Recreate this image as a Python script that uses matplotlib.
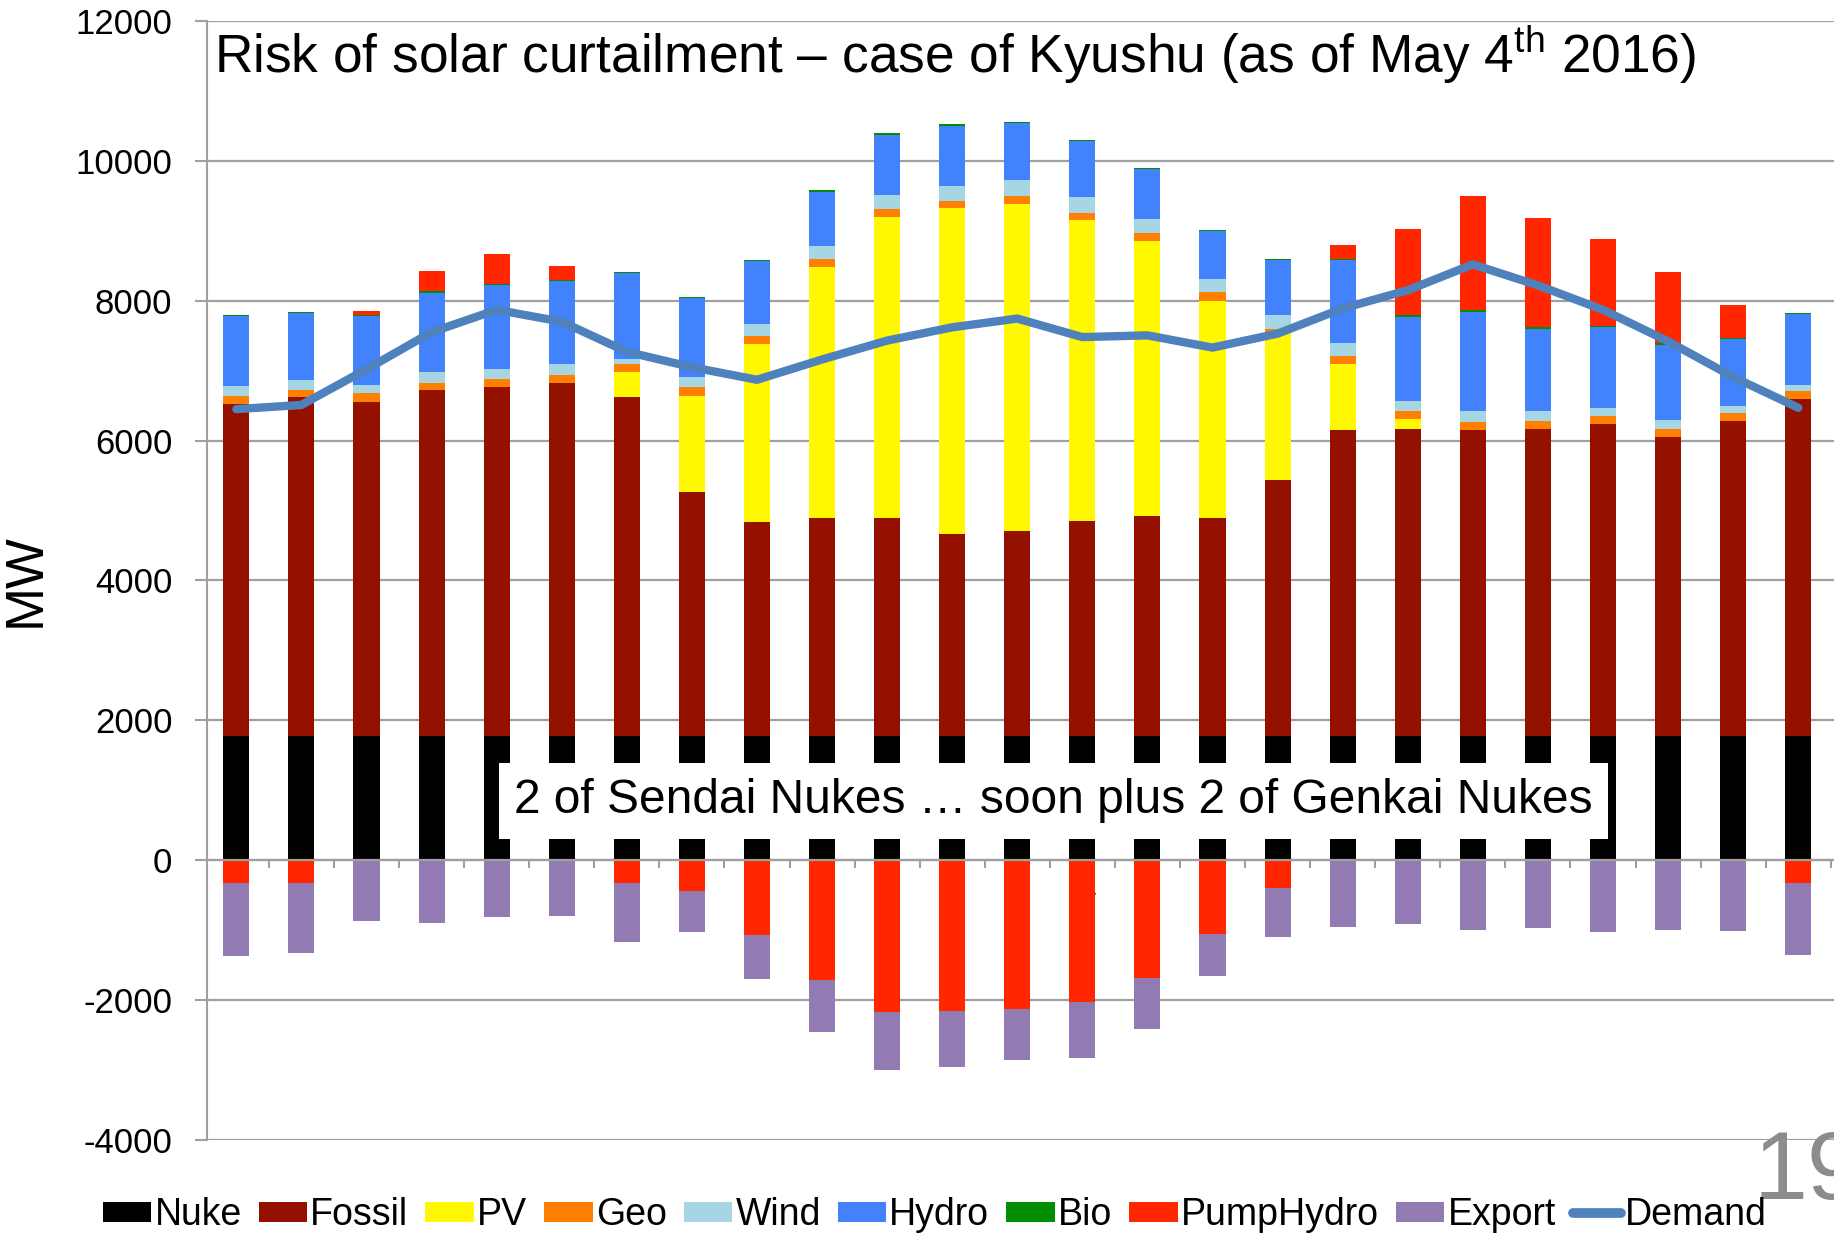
import numpy as np
import matplotlib
matplotlib.use('Agg')
import matplotlib.pyplot as plt
from matplotlib.patches import Patch
from matplotlib.lines import Line2D

# hours of the day (category axis)
hours = list(range(1, 26))
hour_labels = [str(h) for h in hours]

# supply side, MW (stacked upwards)
nuke = [1770, 1770, 1770, 1770, 1780, 1780, 1770, 1780, 1770, 1770, 1770, 1770, 1770,
        1770, 1770, 1770, 1770, 1770, 1770, 1770, 1770, 1770, 1770, 1770, 1770]
fossil = [4750, 4850, 4780, 4950, 4980, 5040, 4850, 3480, 3070, 3120, 3120, 2890, 2940,
          3080, 3150, 3120, 3660, 4380, 4390, 4380, 4390, 4470, 4280, 4510, 4830]
pv = [0, 0, 0, 0, 0, 0, 360, 1380, 2540, 3590, 4300, 4660, 4670,
      4300, 3940, 3110, 2130, 950, 150, 0, 0, 0, 0, 0, 0]
geo = [120, 110, 130, 110, 120, 120, 120, 120, 120, 110, 120, 110, 120,
       110, 110, 120, 30, 110, 110, 120, 120, 110, 120, 110, 110]
wind = [140, 130, 120, 150, 150, 150, 70, 150, 170, 190, 200, 210, 220,
        220, 200, 190, 200, 180, 150, 150, 150, 120, 120, 100, 90]
hydro = [1000, 970, 980, 1130, 1190, 1190, 1220, 1130, 900, 780, 860, 860, 820,
         800, 710, 680, 790, 1190, 1200, 1420, 1170, 1150, 1080, 960, 1010]
bio = [22, 15, 14, 22, 14, 15, 22, 15, 14, 22, 22, 21, 21,
       22, 22, 22, 21, 15, 21, 22, 22, 22, 22, 22, 21]
pump_up = [0, 0, 66, 300, 430, 200, 0, 0, 0, 0, 0, 0, 0,
           0, 0, 0, 0, 200, 1240, 1630, 1560, 1240, 1020, 470, 0]

# sinks, MW (stacked downwards)
pump_down = [-330, -330, 0, 0, 0, 0, -330, -440, -1070, -1710, -2170, -2160, -2130,
             -2020, -1680, -1060, -395, 0, 0, 0, 0, 0, 0, 0, -330]
export = [-1045, -1000, -870, -890, -815, -800, -835, -590, -630, -740, -825, -800, -720,
          -805, -730, -590, -695, -955, -915, -1000, -965, -1030, -990, -1015, -1020]

demand = [6450, 6510, 7020, 7550, 7870, 7700, 7270, 7050, 6870, 7160, 7430, 7620, 7745,
          7480, 7505, 7330, 7530, 7890, 8150, 8520, 8220, 7870, 7420, 6910, 6470]

series_names = ['Nuke', 'Fossil', 'PV', 'Geo', 'Wind', 'Hydro', 'Bio', 'PumpHydro', 'Export']
series_colors = ['#000000', '#941100', '#FFF800', '#FF7F00', '#A6D6E4', '#4283FD',
                 '#008F00', '#FF2600', '#927BB2']
demand_color = '#4F81BD'


def main():
    plt.rcParams['font.family'] = ['Liberation Sans', 'DejaVu Sans']
    plt.rcParams['mathtext.fontset'] = 'custom'
    plt.rcParams['mathtext.rm'] = 'Liberation Sans'
    plt.rcParams['axes.unicode_minus'] = False

    fig = plt.figure(figsize=(18.34, 12.33), dpi=100)
    ax = fig.add_axes([0.1129, 0.0754, 0.8871, 0.9076])

    x = np.array(hours)
    w = 0.40

    # stacked positive bars
    ups = [nuke, fossil, pv, geo, wind, hydro, bio, pump_up]
    bottom = np.zeros(len(x))
    for vals, col in zip(ups, series_colors[:8]):
        vals = np.array(vals, dtype=float)
        ax.bar(x, vals, w, bottom=bottom, color=col, zorder=3, linewidth=0)
        bottom += vals

    # stacked negative bars
    ax.bar(x, pump_down, w, color=series_colors[7], zorder=3, linewidth=0)
    ax.bar(x, export, w, bottom=pump_down, color=series_colors[8], zorder=3, linewidth=0)

    ax.plot(x, demand, color=demand_color, lw=6, solid_capstyle='round',
            solid_joinstyle='round', zorder=4)

    ax.set_xlim(0.55, 25.55)
    ax.set_ylim(-4000, 12000)
    ax.set_yticks(np.arange(-4000, 12001, 2000))
    ax.tick_params(axis='y', labelsize=25, length=9, width=1.5, color='#A0A0A0', pad=16)
    ax.yaxis.grid(True, color='#A0A0A0', lw=1.6, zorder=0)
    ax.set_axisbelow(True)

    # category axis sits at zero
    ax.spines['bottom'].set_position(('data', 0))
    ax.spines['bottom'].set_color('#A0A0A0')
    ax.spines['bottom'].set_linewidth(1.6)
    ax.spines['bottom'].set_zorder(5)
    ax.spines['left'].set_color('#A0A0A0')
    ax.spines['left'].set_linewidth(1.5)
    ax.spines['top'].set_visible(False)
    ax.spines['right'].set_visible(False)
    ax.set_xticks(x)
    ax.set_xticklabels(hour_labels, fontfamily=['Lato', 'DejaVu Sans'], fontsize=17)
    ax.set_xticks(x + 0.5, minor=True)
    ax.tick_params(axis='x', which='major', length=0, pad=16)
    ax.tick_params(axis='x', which='minor', length=6, width=1.5, color='#A0A0A0', direction='out')
    for lab in ax.get_xticklabels():
        lab.set_zorder(6)

    ax.set_ylabel('MW', fontsize=38, labelpad=18)

    fig.text(0.1167, 0.941, r'Risk of solar curtailment – case of Kyushu (as of May 4$^{\mathrm{th}}$ 2016)',
             fontsize=38.3, va='baseline', ha='left')

    ax.text(13.56, 852, '2 of Sendai Nukes … soon plus 2 of Genkai Nukes', fontsize=34.5,
            ha='center', va='center', zorder=7,
            bbox=dict(facecolor='white', edgecolor='none', pad=11))

    # page number in the corner
    fig.text(0.956, 0.0276, '19', fontsize=70, color='#8C8C8C', va='baseline', ha='left')

    handles = [Patch(facecolor=c, edgecolor='none') for c in series_colors]
    handles.append(Line2D([0], [0], color=demand_color, lw=7, solid_capstyle='round'))
    labels = series_names + ['Demand']
    fig.legend(handles, labels, loc='lower left', bbox_to_anchor=(0.056, 0.0), ncol=10,
               frameon=False, fontsize=27, handlelength=1.3, handleheight=0.45,
               handletextpad=0.08, columnspacing=0.45, borderpad=0, borderaxespad=0)

    fig.savefig('out.png', dpi=100)


if __name__ == '__main__':
    main()
